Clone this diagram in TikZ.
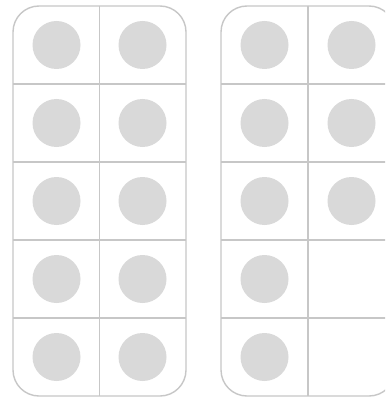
\documentclass[tikz,border=0pt]{standalone}
\begin{document}
\begin{tikzpicture}[x=1pt,y=-1pt,
  framebox/.style={draw=black!22, line width=1.4pt, rounded corners=26pt},
  gridline/.style={draw=black!22, line width=1.4pt},
  dot/.style={circle, fill=black!15, minimum size=48pt, inner sep=0pt, draw=none}]
\useasboundingbox (0,0) rectangle (385,398);
\clip (0,0) rectangle (385,398);
\fill[white] (0,0) rectangle (385,398);
% left frame
\draw[framebox] (13,6) rectangle (186,396);
\draw[gridline] (99.5,6) -- (99.5,396);
\foreach \y in {84,162,240,318} \draw[gridline] (13,\y) -- (186,\y);
% right frame
\draw[framebox] (221,6) rectangle (395,396);
\draw[gridline] (308,6) -- (308,396);
\foreach \y in {84,162,240,318} \draw[gridline] (221,\y) -- (395,\y);
% dots left
\foreach \r/\y in {1/45,2/123,3/201,4/279,5/357}{
  \node[dot] (La\r) at (56.5,\y) {};
  \node[dot] (Lb\r) at (142.5,\y) {};
}
% dots right
\foreach \r/\y in {1/45,2/123,3/201,4/279,5/357}{
  \node[dot] (Ra\r) at (264.5,\y) {};
}
\foreach \r/\y in {1/45,2/123,3/201}{
  \node[dot] (Rb\r) at (351.5,\y) {};
}
\end{tikzpicture}
\end{document}
